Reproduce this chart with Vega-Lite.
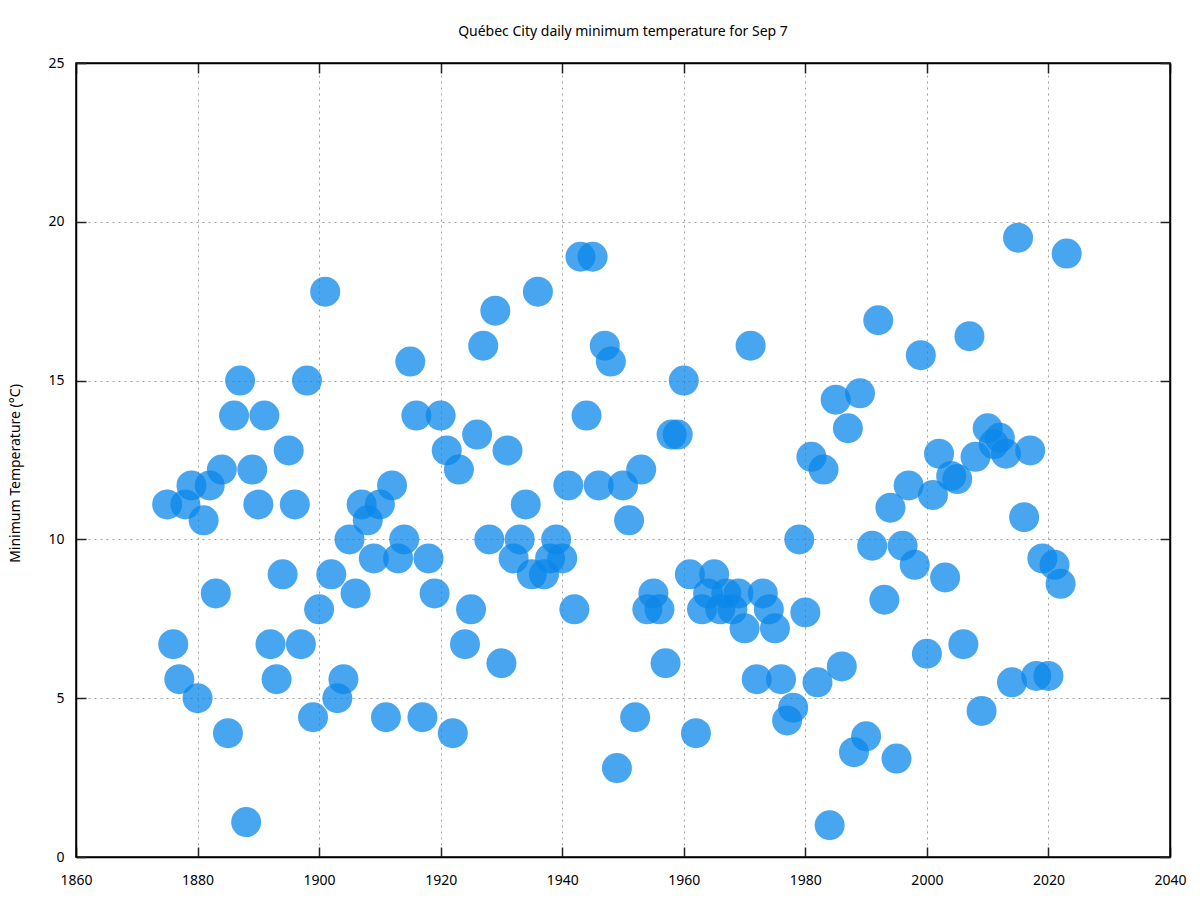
{
  "$schema": "https://vega.github.io/schema/vega-lite/v6.json",
  "width": 1094,
  "height": 794,
  "autosize": {"type": "none"},
  "padding": {"left": 76, "top": 63, "right": 30, "bottom": 43},
  "background": "white",
  "title": {"text": "Québec City daily minimum temperature for Sep 7", "font": "Noto Sans", "fontSize": 14, "fontWeight": "normal", "color": "black", "anchor": "middle", "offset": 17},
  "config": {
    "view": {"stroke": "black", "strokeWidth": 1.5},
    "axis": {"labelFont": "Noto Sans", "titleFont": "Noto Sans", "labelFontSize": 14, "titleFontSize": 14, "labelColor": "black", "titleColor": "black", "titleFontWeight": "normal", "domainColor": "black", "domainWidth": 1.5, "tickColor": "#222222", "tickWidth": 1.5, "gridColor": "#a0a0a0", "gridDash": [2, 4], "gridWidth": 1, "labelFlush": false, "labelOverlap": false}
  },
  "data": {"values": [
    {"year": 1875, "tmin": 11.1}, {"year": 1876, "tmin": 6.7}, {"year": 1877, "tmin": 5.6}, {"year": 1878, "tmin": 11.1}, {"year": 1879, "tmin": 11.7},
    {"year": 1880, "tmin": 5.0}, {"year": 1881, "tmin": 10.6}, {"year": 1882, "tmin": 11.7}, {"year": 1883, "tmin": 8.3}, {"year": 1884, "tmin": 12.2},
    {"year": 1885, "tmin": 3.9}, {"year": 1886, "tmin": 13.9}, {"year": 1887, "tmin": 15.0}, {"year": 1888, "tmin": 1.1}, {"year": 1889, "tmin": 12.2},
    {"year": 1890, "tmin": 11.1}, {"year": 1891, "tmin": 13.9}, {"year": 1892, "tmin": 6.7}, {"year": 1893, "tmin": 5.6}, {"year": 1894, "tmin": 8.9},
    {"year": 1895, "tmin": 12.8}, {"year": 1896, "tmin": 11.1}, {"year": 1897, "tmin": 6.7}, {"year": 1898, "tmin": 15.0}, {"year": 1899, "tmin": 4.4},
    {"year": 1900, "tmin": 7.8}, {"year": 1901, "tmin": 17.8}, {"year": 1902, "tmin": 8.9}, {"year": 1903, "tmin": 5.0}, {"year": 1904, "tmin": 5.6},
    {"year": 1905, "tmin": 10.0}, {"year": 1906, "tmin": 8.3}, {"year": 1907, "tmin": 11.1}, {"year": 1908, "tmin": 10.6}, {"year": 1909, "tmin": 9.4},
    {"year": 1910, "tmin": 11.1}, {"year": 1911, "tmin": 4.4}, {"year": 1912, "tmin": 11.7}, {"year": 1913, "tmin": 9.4}, {"year": 1914, "tmin": 10.0},
    {"year": 1915, "tmin": 15.6}, {"year": 1916, "tmin": 13.9}, {"year": 1917, "tmin": 4.4}, {"year": 1918, "tmin": 9.4}, {"year": 1919, "tmin": 8.3},
    {"year": 1920, "tmin": 13.9}, {"year": 1921, "tmin": 12.8}, {"year": 1922, "tmin": 3.9}, {"year": 1923, "tmin": 12.2}, {"year": 1924, "tmin": 6.7},
    {"year": 1925, "tmin": 7.8}, {"year": 1926, "tmin": 13.3}, {"year": 1927, "tmin": 16.1}, {"year": 1928, "tmin": 10.0}, {"year": 1929, "tmin": 17.2},
    {"year": 1930, "tmin": 6.1}, {"year": 1931, "tmin": 12.8}, {"year": 1932, "tmin": 9.4}, {"year": 1933, "tmin": 10.0}, {"year": 1934, "tmin": 11.1},
    {"year": 1935, "tmin": 8.9}, {"year": 1936, "tmin": 17.8}, {"year": 1937, "tmin": 8.9}, {"year": 1938, "tmin": 9.4}, {"year": 1939, "tmin": 10.0},
    {"year": 1940, "tmin": 9.4}, {"year": 1941, "tmin": 11.7}, {"year": 1942, "tmin": 7.8}, {"year": 1943, "tmin": 18.9}, {"year": 1944, "tmin": 13.9},
    {"year": 1945, "tmin": 18.9}, {"year": 1946, "tmin": 11.7}, {"year": 1947, "tmin": 16.1}, {"year": 1948, "tmin": 15.6}, {"year": 1949, "tmin": 2.8},
    {"year": 1950, "tmin": 11.7}, {"year": 1951, "tmin": 10.6}, {"year": 1952, "tmin": 4.4}, {"year": 1953, "tmin": 12.2}, {"year": 1954, "tmin": 7.8},
    {"year": 1955, "tmin": 8.3}, {"year": 1956, "tmin": 7.8}, {"year": 1957, "tmin": 6.1}, {"year": 1958, "tmin": 13.3}, {"year": 1959, "tmin": 13.3},
    {"year": 1960, "tmin": 15.0}, {"year": 1961, "tmin": 8.9}, {"year": 1962, "tmin": 3.9}, {"year": 1963, "tmin": 7.8}, {"year": 1964, "tmin": 8.3},
    {"year": 1965, "tmin": 8.9}, {"year": 1966, "tmin": 7.8}, {"year": 1967, "tmin": 8.3}, {"year": 1968, "tmin": 7.8}, {"year": 1969, "tmin": 8.3},
    {"year": 1970, "tmin": 7.2}, {"year": 1971, "tmin": 16.1}, {"year": 1972, "tmin": 5.6}, {"year": 1973, "tmin": 8.3}, {"year": 1974, "tmin": 7.8},
    {"year": 1975, "tmin": 7.2}, {"year": 1976, "tmin": 5.6}, {"year": 1977, "tmin": 4.3}, {"year": 1978, "tmin": 4.7}, {"year": 1979, "tmin": 10.0},
    {"year": 1980, "tmin": 7.7}, {"year": 1981, "tmin": 12.6}, {"year": 1982, "tmin": 5.5}, {"year": 1983, "tmin": 12.2}, {"year": 1984, "tmin": 1.0},
    {"year": 1985, "tmin": 14.4}, {"year": 1986, "tmin": 6.0}, {"year": 1987, "tmin": 13.5}, {"year": 1988, "tmin": 3.3}, {"year": 1989, "tmin": 14.6},
    {"year": 1990, "tmin": 3.8}, {"year": 1991, "tmin": 9.8}, {"year": 1992, "tmin": 16.9}, {"year": 1993, "tmin": 8.1}, {"year": 1994, "tmin": 11.0},
    {"year": 1995, "tmin": 3.1}, {"year": 1996, "tmin": 9.8}, {"year": 1997, "tmin": 11.7}, {"year": 1998, "tmin": 9.2}, {"year": 1999, "tmin": 15.8},
    {"year": 2000, "tmin": 6.4}, {"year": 2001, "tmin": 11.4}, {"year": 2002, "tmin": 12.7}, {"year": 2003, "tmin": 8.8}, {"year": 2004, "tmin": 12.0},
    {"year": 2005, "tmin": 11.9}, {"year": 2006, "tmin": 6.7}, {"year": 2007, "tmin": 16.4}, {"year": 2008, "tmin": 12.6}, {"year": 2009, "tmin": 4.6},
    {"year": 2010, "tmin": 13.5}, {"year": 2011, "tmin": 13.0}, {"year": 2012, "tmin": 13.2}, {"year": 2013, "tmin": 12.7}, {"year": 2014, "tmin": 5.5},
    {"year": 2015, "tmin": 19.5}, {"year": 2016, "tmin": 10.7}, {"year": 2017, "tmin": 12.8}, {"year": 2018, "tmin": 5.7}, {"year": 2019, "tmin": 9.4},
    {"year": 2020, "tmin": 5.7}, {"year": 2021, "tmin": 9.2}, {"year": 2022, "tmin": 8.6}, {"year": 2023, "tmin": 19.0}
  ]},
  "layer": [
    {
      "mark": {"type": "point", "filled": true, "shape": "circle", "size": 900, "color": "#0b87ea", "opacity": 0.75, "strokeWidth": 0},
      "encoding": {
        "x": {"field": "year", "type": "quantitative", "scale": {"domain": [1860, 2040], "nice": false, "zero": false},
              "axis": {"orient": "bottom", "values": [1860, 1880, 1900, 1920, 1940, 1960, 1980, 2000, 2020, 2040], "format": "d", "title": null, "grid": true, "tickSize": -10, "labelPadding": 26, "domain": true}},
        "y": {"field": "tmin", "type": "quantitative", "scale": {"domain": [0, 25], "nice": false, "zero": true},
              "axis": {"orient": "left", "values": [0, 5, 10, 15, 20, 25], "title": "Minimum Temperature (°C)", "grid": true, "tickSize": -10, "labelPadding": 22, "titlePadding": 25, "titleY": 410, "domain": true}}
      }
    },
    {
      "mark": {"type": "point", "opacity": 0},
      "encoding": {
        "x": {"field": "year", "type": "quantitative", "scale": {"domain": [1860, 2040], "nice": false, "zero": false},
              "axis": {"orient": "top", "values": [1860, 1880, 1900, 1920, 1940, 1960, 1980, 2000, 2020, 2040], "labels": false, "title": null, "grid": false, "tickSize": -10, "domain": true}},
        "y": {"field": "tmin", "type": "quantitative", "scale": {"domain": [0, 25], "nice": false, "zero": true},
              "axis": {"orient": "right", "values": [0, 5, 10, 15, 20, 25], "labels": false, "title": null, "grid": false, "tickSize": -10, "domain": true}}
      }
    }
  ],
  "resolve": {"axis": {"x": "independent", "y": "independent"}}
}
